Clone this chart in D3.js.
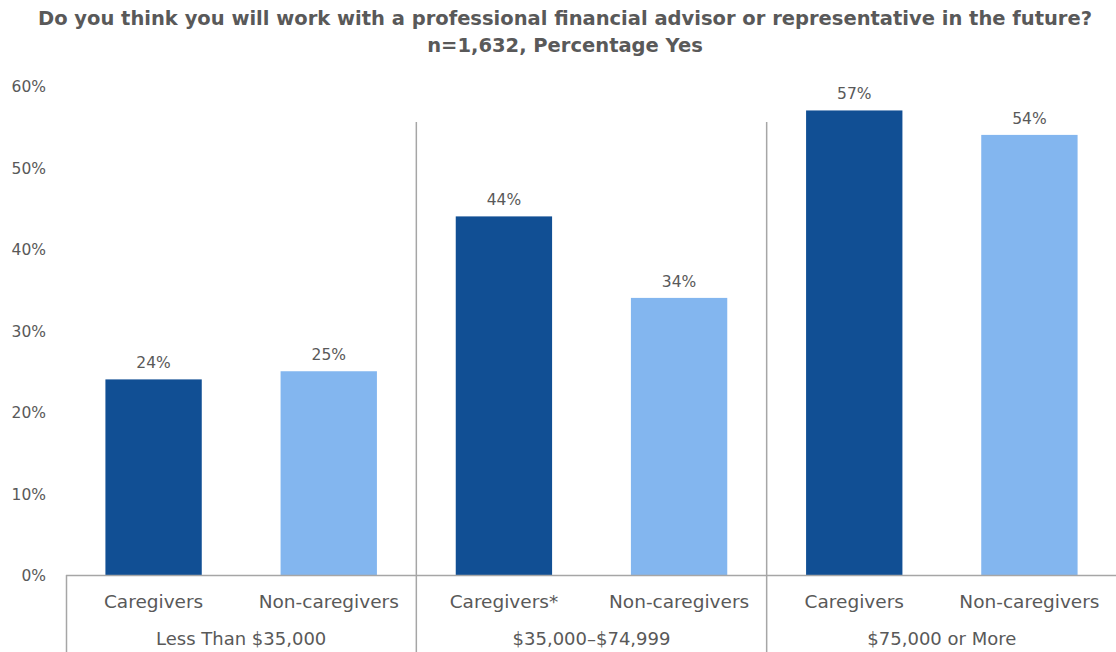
<!DOCTYPE html>
<html>
<head>
<meta charset="utf-8">
<script src="https://cdn.jsdelivr.net/npm/d3@7"></script>
<style>
  body { margin: 0; background: #fff; }
  text { font-family: "DejaVu Sans", "Noto Sans", sans-serif; fill: #595959; }
</style>
</head>
<body>
<svg id="chart" width="1116" height="652"></svg>
<script>
// data
var groups = ["Less Than $35,000", "$35,000\u2013$74,999", "$75,000 or More"];
var categories = [["Caregivers", "Non-caregivers"], ["Caregivers*", "Non-caregivers"], ["Caregivers", "Non-caregivers"]];
var caregiverValues = [24, 44, 57];
var nonCaregiverValues = [25, 34, 54];
var yTicks = [0, 10, 20, 30, 40, 50, 60];

var titleLines = ["Do you think you will work with a professional financial advisor or representative in the future?", "n=1,632, Percentage Yes"];

var svg = d3.select("#chart");
var left = 66, right = 1117, top_y = 86, base_y = 575;
var colors = ["#114f94", "#83b6ef"];

// build flat bar list
var bars = [];
groups.forEach(function(g, i) {
    bars.push({group: i, label: categories[i][0], value: caregiverValues[i], type: 0});
    bars.push({group: i, label: categories[i][1], value: nonCaregiverValues[i], type: 1});
});

var xGroup = d3.scaleBand().domain(groups).range([left, right]);
var xInner = d3.scaleBand().domain([0, 1]).range([0, xGroup.bandwidth()]).paddingInner(0.45).paddingOuter(0.225);
var y = d3.scaleLinear().domain([0, 60]).range([base_y, top_y]);

// title
svg.selectAll(".title")
    .data(titleLines)
    .enter().append("text")
    .attr("class", "title")
    .attr("x", 565)
    .attr("y", function(d, i) { return 25 + i * 27; })
    .attr("text-anchor", "middle")
    .style("font-size", "19.5px")
    .style("font-weight", "bold")
    .text(function(d) { return d; });

// y axis labels
svg.selectAll(".ytick")
    .data(yTicks)
    .enter().append("text")
    .attr("class", "ytick")
    .attr("x", 46)
    .attr("y", function(d) { return y(d) + 6; })
    .attr("text-anchor", "end")
    .style("font-size", "15.5px")
    .text(function(d) { return d + "%"; });

// bars
svg.selectAll(".bar")
    .data(bars)
    .enter().append("rect")
    .attr("class", "bar")
    .attr("x", function(d) { return xGroup(groups[d.group]) + xInner(d.type); })
    .attr("width", xInner.bandwidth())
    .attr("y", function(d) { return y(d.value); })
    .attr("height", function(d) { return base_y - y(d.value); })
    .attr("fill", function(d) { return colors[d.type]; });

// value labels
svg.selectAll(".valueLabel")
    .data(bars)
    .enter().append("text")
    .attr("class", "valueLabel")
    .attr("x", function(d) { return xGroup(groups[d.group]) + xInner(d.type) + xInner.bandwidth() / 2; })
    .attr("y", function(d) { return y(d.value) - 11; })
    .attr("text-anchor", "middle")
    .style("font-size", "15.5px")
    .text(function(d) { return d.value + "%"; });

// baseline and separators
svg.append("line")
    .attr("x1", left).attr("x2", right)
    .attr("y1", base_y + 0.5).attr("y2", base_y + 0.5)
    .attr("stroke", "#a6a6a6").attr("stroke-width", 1.5);

svg.append("line")
    .attr("x1", left + 0.5).attr("x2", left + 0.5)
    .attr("y1", base_y).attr("y2", 652)
    .attr("stroke", "#a6a6a6").attr("stroke-width", 1.5);

svg.selectAll(".sep")
    .data(groups.slice(1))
    .enter().append("line")
    .attr("class", "sep")
    .attr("x1", function(d) { return xGroup(d); })
    .attr("x2", function(d) { return xGroup(d); })
    .attr("y1", 122).attr("y2", 652)
    .attr("stroke", "#a6a6a6").attr("stroke-width", 1.5);

// category labels
svg.selectAll(".catLabel")
    .data(bars)
    .enter().append("text")
    .attr("class", "catLabel")
    .attr("x", function(d) { return xGroup(groups[d.group]) + xGroup.bandwidth() / 4 * (2 * d.type + 1); })
    .attr("y", 608)
    .attr("text-anchor", "middle")
    .style("font-size", "18.5px")
    .text(function(d) { return d.label; });

// group labels
svg.selectAll(".groupLabel")
    .data(groups)
    .enter().append("text")
    .attr("class", "groupLabel")
    .attr("x", function(d) { return xGroup(d) + xGroup.bandwidth() / 2; })
    .attr("y", 645)
    .attr("text-anchor", "middle")
    .style("font-size", "18px")
    .text(function(d) { return d; });
</script>
</body>
</html>
